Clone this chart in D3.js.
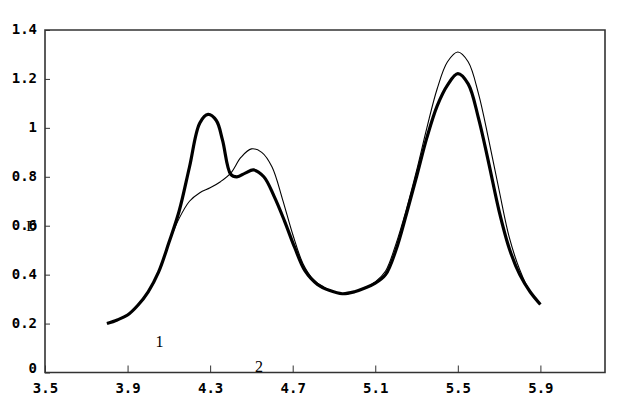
<!DOCTYPE html>
<html><head><meta charset="utf-8">
<script src="https://cdn.jsdelivr.net/npm/d3@7"></script>
<style>body{margin:0;background:#fff}svg{display:block}</style>
</head><body>
<svg id="c" width="636" height="408"></svg>
<script>
const xTicks = [3.5, 3.9, 4.3, 4.7, 5.1, 5.5, 5.9];
const yTicks = [0, 0.2, 0.4, 0.6, 0.8, 1, 1.2, 1.4];

const xThick = [3.80,3.85,3.90,3.95,4.00,4.05,4.10,4.15,4.20,4.25,4.29,4.33,4.36,4.40,4.43,4.47,4.51,4.56,4.61,4.66,4.71,4.76,4.82,4.88,4.94,5.00,5.05,5.10,5.15,5.20,5.25,5.30,5.35,5.40,5.45,5.50,5.55,5.60,5.65,5.70,5.75,5.80,5.85,5.90];
const yThick = [0.20,0.215,0.235,0.275,0.33,0.41,0.53,0.66,0.84,1.02,1.055,1.03,0.95,0.81,0.80,0.815,0.828,0.80,0.72,0.62,0.51,0.415,0.36,0.335,0.322,0.33,0.345,0.365,0.40,0.50,0.645,0.80,0.96,1.09,1.175,1.222,1.18,1.04,0.855,0.66,0.505,0.40,0.33,0.278];

const xThin = [3.80,3.85,3.90,3.95,4.00,4.05,4.10,4.15,4.20,4.25,4.30,4.35,4.40,4.45,4.50,4.55,4.60,4.65,4.70,4.75,4.80,4.85,4.90,4.95,5.00,5.05,5.10,5.15,5.20,5.25,5.30,5.35,5.40,5.45,5.50,5.55,5.60,5.65,5.70,5.75,5.80,5.85,5.90];
const yThin = [0.20,0.215,0.235,0.275,0.33,0.41,0.53,0.63,0.70,0.735,0.755,0.78,0.815,0.88,0.914,0.90,0.84,0.71,0.565,0.445,0.38,0.35,0.33,0.322,0.33,0.345,0.37,0.415,0.525,0.665,0.825,1.0,1.16,1.27,1.31,1.27,1.14,0.95,0.745,0.55,0.42,0.33,0.28];

const labels = [{t:"1", x:4.055, y:0.105}, {t:"2", x:4.537, y:0.002}];

const svg = d3.select("#c");
const L = 45, R = 605, T = 30, B = 372.5;
const x = d3.scaleLinear().domain([3.5, 6.213]).range([L, R]);
const y = d3.scaleLinear().domain([0, 1.4]).range([B, T]);

// frame
svg.append("path")
  .attr("d", `M${L},${B}H${R}V${T}H${L}Z`)
  .attr("fill", "none").attr("stroke", "#333").attr("stroke-width", 1.6);

const monoFont = "'DejaVu Sans Mono', monospace";

const gx = svg.append("g").attr("transform", `translate(0,${B})`)
  .call(d3.axisBottom(x).tickValues(xTicks).tickFormat(d3.format(".1f")).tickSizeInner(-7).tickSizeOuter(0).tickPadding(12));
gx.select(".domain").remove();
gx.selectAll("line").attr("stroke", "#333");
gx.selectAll("text").attr("font-family", monoFont).attr("font-weight", "bold").attr("font-size", 14).attr("fill", "#000").attr("dy", "0.6em");

const gy = svg.append("g").attr("transform", `translate(${L},0)`)
  .call(d3.axisLeft(y).tickValues(yTicks).tickFormat(d => d3.format("")(+d.toFixed(1))).tickSizeInner(-5).tickSizeOuter(0).tickPadding(8));
gy.select(".domain").remove();
gy.selectAll("line").attr("stroke", "#333");
gy.selectAll("text").attr("font-family", monoFont).attr("font-weight", "bold").attr("font-size", 14).attr("fill", "#000").attr("dy", "0.28em");
gy.selectAll(".tick").filter(d => d === 0).select("text").attr("dy", "0.0em");

// stray "D" overlapping the 0.6 label
svg.append("text").attr("x", L - 8).attr("y", y(0.6) + 5)
  .attr("text-anchor", "end").attr("font-family", "'Liberation Serif', serif")
  .attr("font-size", 15).attr("fill", "#000").text("D");

const lineGen = d3.line().curve(d3.curveCatmullRom.alpha(0.5));
const thick = xThick.map((v, i) => [x(v), y(yThick[i])]);
const thin = xThin.map((v, i) => [x(v), y(yThin[i])]);

svg.append("path").attr("d", lineGen(thick)).attr("fill", "none").attr("stroke", "#000").attr("stroke-width", 3.2).attr("stroke-linejoin", "round");
svg.append("path").attr("d", lineGen(thin)).attr("fill", "none").attr("stroke", "#000").attr("stroke-width", 1.1);

svg.selectAll(".lbl").data(labels).enter().append("text")
  .attr("x", d => x(d.x)).attr("y", d => y(d.y))
  .attr("text-anchor", "middle").attr("font-family", "'Liberation Serif', serif")
  .attr("font-size", 16).attr("fill", "#000").text(d => d.t);
</script>
</body></html>
